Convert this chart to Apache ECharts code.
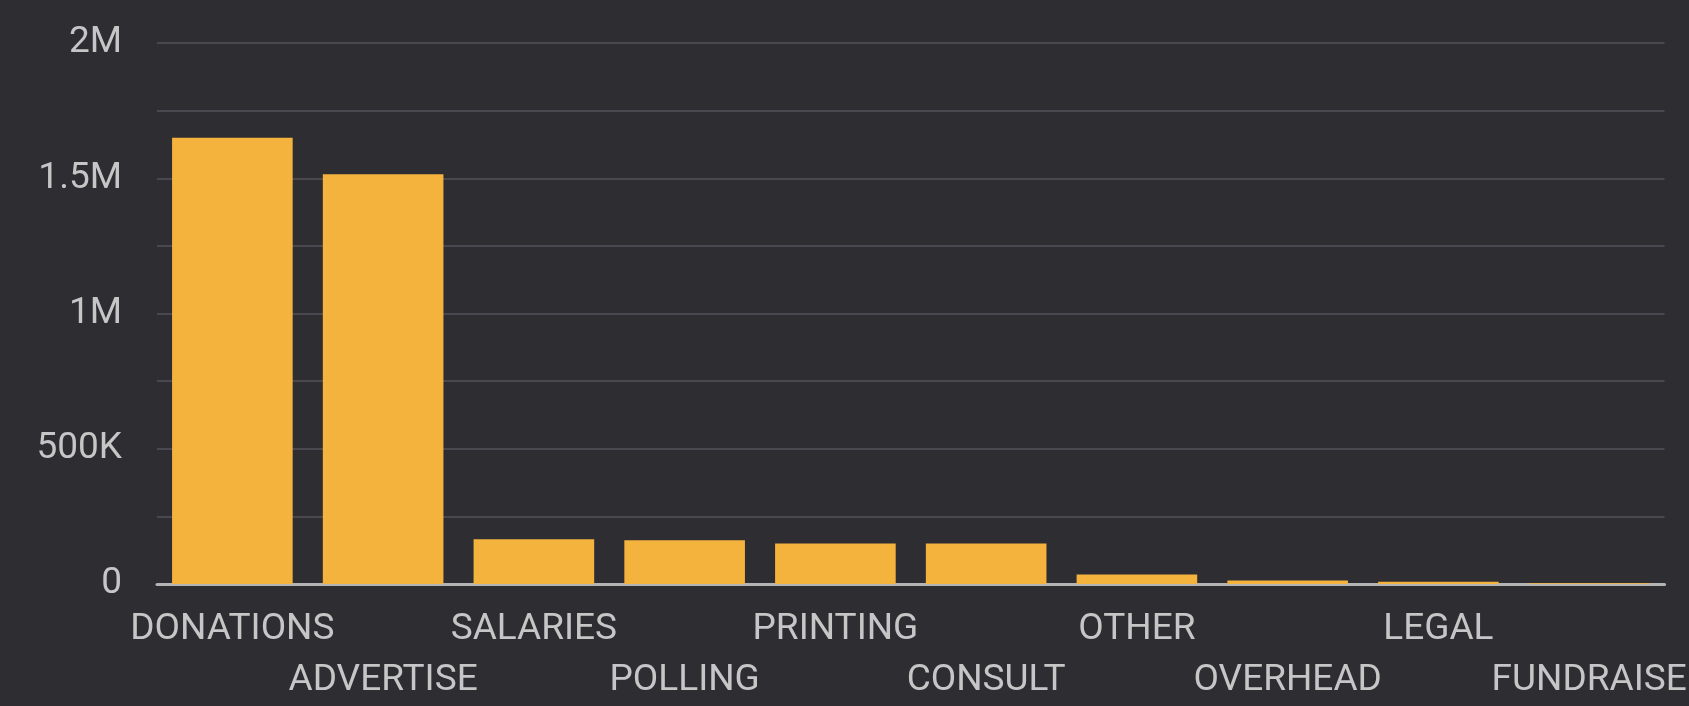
<!DOCTYPE html>
<html>
<head>
<meta charset="utf-8">
<script src="https://cdn.jsdelivr.net/npm/echarts@6/dist/echarts.min.js"></script>
<style>
  html, body { margin: 0; padding: 0; background: #2e2d32; }
  #main { width: 1689px; height: 706px; }
</style>
</head>
<body>
<div id="main"></div>
<script>
// categories and amounts
const categories = ['DONATIONS', 'ADVERTISE', 'SALARIES', 'POLLING', 'PRINTING',
    'CONSULT', 'OTHER', 'OVERHEAD', 'LEGAL', 'FUNDRAISE'];
const amounts = [1650000, 1515000, 165000, 162000, 150000, 150000, 35000, 13000, 8000, 3000];
const yTicks = [0, 500000, 1000000, 1500000, 2000000];
const yTickLabels = ['0', '500K', '1M', '1.5M', '2M'];

const labelColor = '#c6c6c6';

let option = {
    backgroundColor: '#2e2d32',
    textStyle: {fontFamily: 'Roboto'},
    grid: {left: 157, right: 10, top: 43, bottom: 119, containLabel: false},
    xAxis: {
        type: 'category',
        data: categories,
        axisLine: {lineStyle: {color: '#b4b4b4', width: 3}},
        axisTick: {show: false},
        axisLabel: {
            interval: 0,
            margin: 20,
            color: labelColor,
            fontSize: 37,
            lineHeight: 51,
            formatter: (v, i) => (i % 2 ? '\n' + v : v)
        }
    },
    yAxis: {
        type: 'value',
        min: 0,
        max: 2000000,
        interval: 500000,
        axisLine: {show: false},
        axisTick: {show: false},
        axisLabel: {
            margin: 35,
            color: labelColor,
            fontSize: 37,
            formatter: v => yTickLabels[yTicks.indexOf(v)]
        },
        splitLine: {lineStyle: {color: '#4a4750', width: 2}},
        minorTick: {show: false, splitNumber: 2},
        minorSplitLine: {show: true, lineStyle: {color: '#4a4750', width: 2}}
    },
    series: [{
        type: 'bar',
        data: amounts,
        barCategoryGap: '20%',
        itemStyle: {color: '#f4b33d'},
        animation: false
    }]
};

let myChart = echarts.init(document.getElementById('main'));
myChart.setOption(option);
</script>
</body>
</html>
